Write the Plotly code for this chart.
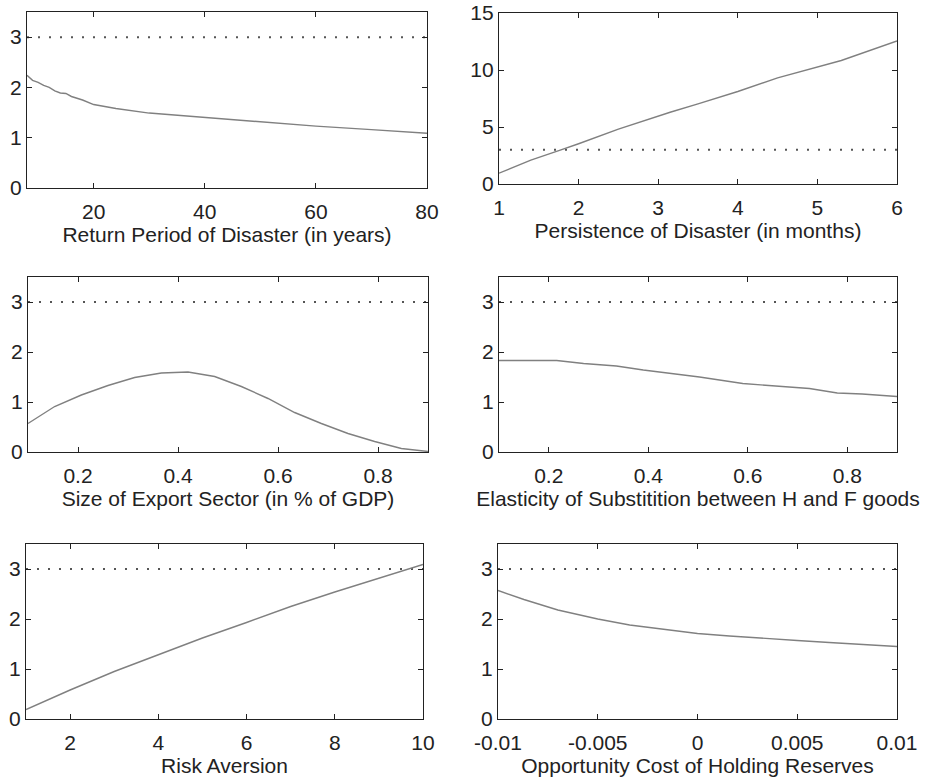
import plotly.graph_objects as go

# threshold drawn as a dotted line in every panel
THRESHOLD = 3

# panel 1: return period of disaster
ret_x = [8, 9, 10, 11, 12, 13, 14, 15, 16, 18, 20, 24, 30, 40, 50, 60, 70, 80]
ret_y = [2.24, 2.14, 2.10, 2.04, 2.00, 1.93, 1.89, 1.88, 1.82, 1.75, 1.66, 1.58, 1.49, 1.40, 1.31, 1.23, 1.16, 1.09]

# panel 2: persistence of disaster
per_x = [1, 1.4, 1.76, 2, 2.5, 3, 3.15, 3.5, 4, 4.5, 5, 5.3, 6]
per_y = [0.95, 2.1, 2.95, 3.53, 4.82, 5.97, 6.3, 7.03, 8.12, 9.32, 10.27, 10.84, 12.56]

# panel 3: size of export sector
exp_x = [0.1, 0.1533, 0.2067, 0.26, 0.3133, 0.3667, 0.42, 0.4733, 0.5267, 0.58,
         0.6333, 0.6867, 0.74, 0.7933, 0.8467, 0.9]
exp_y = [0.57, 0.91, 1.14, 1.33, 1.49, 1.58, 1.60, 1.51, 1.31, 1.07,
         0.79, 0.57, 0.37, 0.21, 0.07, 0.01]

# panel 4: elasticity of substitution
ela_x = [0.1, 0.216, 0.27, 0.336, 0.39, 0.436, 0.503, 0.59, 0.657, 0.724, 0.78, 0.83, 0.9]
ela_y = [1.83, 1.83, 1.77, 1.72, 1.64, 1.58, 1.50, 1.37, 1.32, 1.27, 1.18, 1.16, 1.11]

# panel 5: risk aversion
risk_x = [1, 2, 3, 4, 5, 6, 7, 8, 9, 9.53, 10]
risk_y = [0.19, 0.58, 0.95, 1.28, 1.62, 1.93, 2.25, 2.54, 2.82, 2.97, 3.09]

# panel 6: opportunity cost of holding reserves
opp_x = [-0.01, -0.0087, -0.007, -0.005, -0.0034, -0.0017, 0, 0.0016, 0.0033, 0.005,
         0.0066, 0.0083, 0.01]
opp_y = [2.57, 2.39, 2.18, 2.00, 1.88, 1.79, 1.71, 1.66, 1.61, 1.57, 1.53, 1.49, 1.45]

# tick labels
ret_ticks = [20, 40, 60, 80]
per_ticks = [1, 2, 3, 4, 5, 6]
frac_ticks = [0.2, 0.4, 0.6, 0.8]
frac_labels = ['0.2', '0.4', '0.6', '0.8']
risk_ticks = [2, 4, 6, 8, 10]
opp_ticks = [-0.01, -0.005, 0, 0.005, 0.01]
opp_labels = ['-0.01', '-0.005', '0', '0.005', '0.01']
y_ticks_small = [0, 1, 2, 3]
y_ticks_big = [0, 5, 10, 15]

W, H = 926, 784

panels = [
    dict(x=ret_x, y=ret_y, xr=[8, 80], tv=ret_ticks, tt=[str(t) for t in ret_ticks],
         yr=[0, 3.5], ytv=y_ticks_small, title='Return Period of Disaster (in years)',
         px=(27, 427), py=(12, 188)),
    dict(x=per_x, y=per_y, xr=[1, 6], tv=per_ticks, tt=[str(t) for t in per_ticks],
         yr=[0, 15.01], ytv=y_ticks_big, title='Persistence of Disaster (in months)',
         px=(499, 897), py=(13, 184)),
    dict(x=exp_x, y=exp_y, xr=[0.1, 0.9], tv=frac_ticks, tt=frac_labels,
         yr=[0, 3.5], ytv=y_ticks_small, title='Size of Export Sector (in % of GDP)',
         px=(28, 428), py=(277, 452)),
    dict(x=ela_x, y=ela_y, xr=[0.1, 0.9], tv=frac_ticks, tt=frac_labels,
         yr=[0, 3.5], ytv=y_ticks_small, title='Elasticity of Substitition between H and F goods',
         px=(499, 897), py=(277, 452)),
    dict(x=risk_x, y=risk_y, xr=[1, 10], tv=risk_ticks, tt=[str(t) for t in risk_ticks],
         yr=[0, 3.5], ytv=y_ticks_small, title='Risk Aversion',
         px=(26, 423), py=(544, 719)),
    dict(x=opp_x, y=opp_y, xr=[-0.01, 0.01], tv=opp_ticks, tt=opp_labels,
         yr=[0, 3.5], ytv=y_ticks_small, title='Opportunity Cost of Holding Reserves',
         px=(498, 897), py=(544, 719)),
]

fig = go.Figure()
layout = {}

axis_common = dict(
    showline=True, linecolor='#222', linewidth=1.3, mirror='ticks',
    ticks='inside', ticklen=5, tickwidth=1.2, tickcolor='#222',
    showgrid=False, zeroline=False, automargin=False,
    ticklabeloverflow='allow',
    tickfont=dict(size=21, color='#222'),
)

for i, p in enumerate(panels, start=1):
    xa = 'x' if i == 1 else f'x{i}'
    ya = 'y' if i == 1 else f'y{i}'
    # threshold line
    fig.add_trace(go.Scatter(
        x=p['xr'], y=[THRESHOLD, THRESHOLD], mode='lines',
        line=dict(color='#555', width=2, dash='2px,9px'),
        xaxis=xa, yaxis=ya, hoverinfo='skip'))
    # model curve
    fig.add_trace(go.Scatter(
        x=p['x'], y=p['y'], mode='lines',
        line=dict(color='#808080', width=1.4),
        xaxis=xa, yaxis=ya))
    layout[f'xaxis{i}'] = dict(
        axis_common, domain=[p['px'][0] / W, p['px'][1] / W],
        range=p['xr'], tickmode='array', tickvals=p['tv'], ticktext=p['tt'],
        anchor=ya, ticklabelstandoff=5,
        title=dict(text=p['title'], font=dict(size=21, color='#222'), standoff=4))
    layout[f'yaxis{i}'] = dict(
        axis_common, domain=[1 - p['py'][1] / H, 1 - p['py'][0] / H],
        range=p['yr'], tickmode='array', tickvals=p['ytv'],
        anchor=xa, ticklabelstandoff=0)

fig.update_layout(**layout)
fig.update_layout(
    width=W, height=H,
    showlegend=False,
    plot_bgcolor='white',
    paper_bgcolor='white',
    font=dict(family='Liberation Sans, Arial, sans-serif', size=21, color='#222'),
    margin=dict(l=0, r=0, t=0, b=0),
)

# drop the page's default body margin so the figure fills the window
fig.write_html('out.html', config={'displayModeBar': False},
               post_script="document.body.style.margin='0';")
